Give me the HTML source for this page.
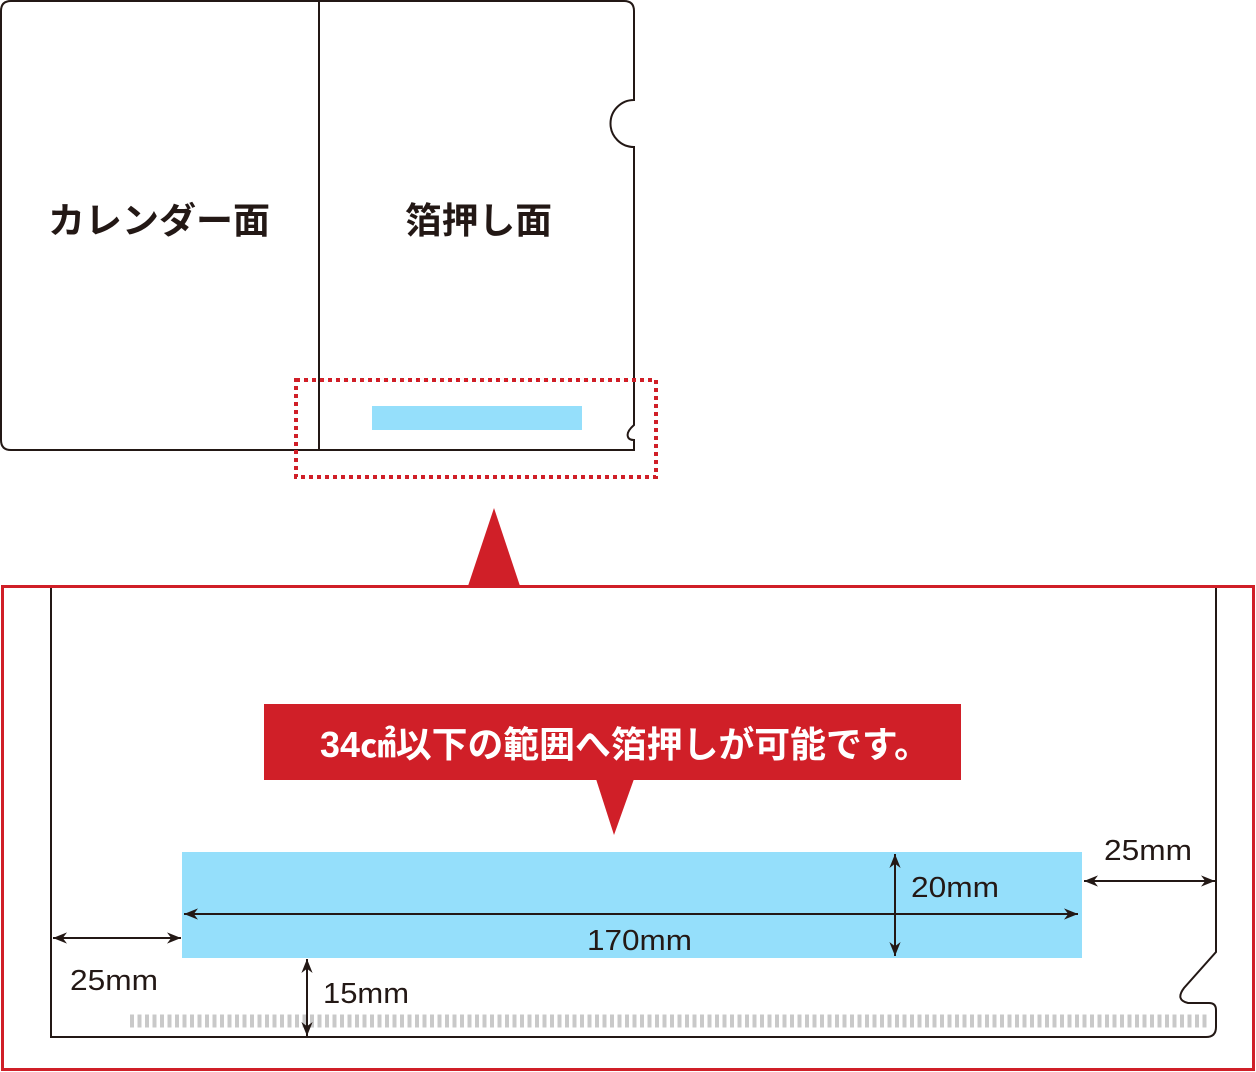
<!DOCTYPE html>
<html><head><meta charset="utf-8"><style>
html,body{margin:0;padding:0;background:#fff;}
svg{display:block;}
text{font-family:"Liberation Sans","Noto Sans CJK JP",sans-serif;}
</style></head><body>
<svg width="1256" height="1072" viewBox="0 0 1256 1072" xmlns="http://www.w3.org/2000/svg">
<defs>
<marker id="ah" viewBox="0 0 10 10" refX="10" refY="5" markerWidth="16" markerHeight="14" markerUnits="userSpaceOnUse" orient="auto-start-reverse">
<path d="M0,1 L10,5 L0,9 L3,5 Z" fill="#231815"/></marker>
</defs>
<path d="M11,1 L624,1 Q634,1 634,11 L634,100 A23,23 0 0 0 634,147 L634,425 Q626,432 628,437 Q629,440 634,440 L634,450 L11,450 Q1,450 1,440 L1,11 Q1,1 11,1 Z" fill="none" stroke="#231815" stroke-width="2"/>
<line x1="319" y1="1" x2="319" y2="450" stroke="#231815" stroke-width="2"/>
<text x="48" y="233" font-size="36" font-weight="bold" textLength="222" lengthAdjust="spacingAndGlyphs" fill="#231815">カレンダー面</text>
<text x="405" y="233" font-size="36" font-weight="bold" textLength="147" lengthAdjust="spacingAndGlyphs" fill="#231815">箔押し面</text>
<rect x="372" y="406" width="210" height="24" fill="#95dffb"/>
<rect x="296" y="380" width="360" height="97" fill="none" stroke="#d01f28" stroke-width="4" stroke-dasharray="4 4"/>
<polygon points="468,586 520,586 494,508" fill="#d01f28"/>
<rect x="2.5" y="586.5" width="1251" height="483" fill="none" stroke="#d01f28" stroke-width="3"/>
<path d="M51,588 L51,1037 L1206,1037 Q1216,1037 1216,1027 L1216,1010 Q1216,1003 1209,1003 L1188,1003 Q1175,1000 1184,988 L1216,952 L1216,588" fill="none" stroke="#231815" stroke-width="2"/>
<line x1="130" y1="1021" x2="1210" y2="1021" stroke="#c9c9c9" stroke-width="13" stroke-dasharray="4 3.5"/>
<rect x="182" y="852" width="900" height="106" fill="#95dffb"/>
<rect x="264" y="704" width="697" height="76" fill="#d01f28"/>
<polygon points="596,779 634,779 614,835" fill="#d01f28"/>
<text x="320" y="757" font-size="36" font-weight="bold" textLength="610" lengthAdjust="spacingAndGlyphs" fill="#fff">34㎠以下の範囲へ箔押しが可能です。</text>
<g stroke="#231815" stroke-width="2" fill="none">
<line x1="184" y1="914" x2="1078" y2="914" marker-start="url(#ah)" marker-end="url(#ah)"/>
<line x1="895" y1="854" x2="895" y2="956" marker-start="url(#ah)" marker-end="url(#ah)"/>
<line x1="1084" y1="881" x2="1215" y2="881" marker-start="url(#ah)" marker-end="url(#ah)"/>
<line x1="53" y1="938" x2="181" y2="938" marker-start="url(#ah)" marker-end="url(#ah)"/>
<line x1="307" y1="959" x2="307" y2="1036" marker-start="url(#ah)" marker-end="url(#ah)"/>
</g>
<g font-size="29" fill="#231815">
<text x="911" y="897" textLength="88" lengthAdjust="spacingAndGlyphs">20mm</text>
<text x="587" y="950" textLength="105" lengthAdjust="spacingAndGlyphs">170mm</text>
<text x="1104" y="860" textLength="88" lengthAdjust="spacingAndGlyphs">25mm</text>
<text x="70" y="990" textLength="88" lengthAdjust="spacingAndGlyphs">25mm</text>
<text x="323" y="1003" textLength="86" lengthAdjust="spacingAndGlyphs">15mm</text>
</g>
</svg>
</body></html>
